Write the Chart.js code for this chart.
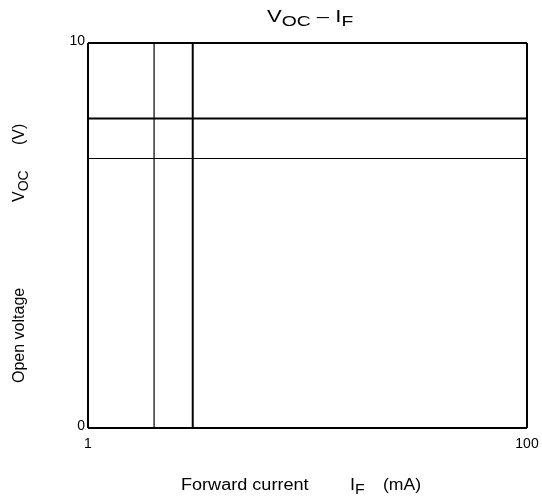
<!DOCTYPE html>
<html>
<head>
<meta charset="utf-8">
<script src="https://cdn.jsdelivr.net/npm/chart.js@4"></script>
<style>
  body { margin: 0; background: #fff; }
  #wrap { width: 542px; height: 497px; }
</style>
</head>
<body>
<div id="wrap"><canvas id="myChart" width="542" height="497"></canvas></div>
<script>
// chart values
const xTicks = [1, 100];      // forward current IF (mA), log axis
const yTicks = [0, 10];       // open voltage VOC (V)
const ifMarks = [2, 3];       // vertical guide lines (mA)
const vocMarks = [8.04, 7];   // horizontal guide lines (V)

const FONT = '"Liberation Sans", Arial, sans-serif';

function vLine(x) {
    return [{ x: x, y: yTicks[0] }, { x: x, y: yTicks[1] }];
}
function hLine(y) {
    return [{ x: xTicks[0], y: y }, { x: xTicks[1], y: y }];
}

function pieceFont(p) {
    return (p.sub ? '14px ' : '16px ') + FONT;
}

// draws text pieces (some as subscripts), stretched horizontally by sx
function drawPieces(c, pieces, x, y, sx) {
    sx = sx || 1;
    c.save();
    c.translate(x, y);
    c.scale(sx, 1);
    let pos = 0;
    pieces.forEach(p => {
        c.font = pieceFont(p);
        c.fillText(p.t, pos, p.sub ? 4 : 0);
        pos += c.measureText(p.t).width;
    });
    c.restore();
}

const labelsPlugin = {
    id: 'labels',
    afterDraw(chart) {
        const c = chart.ctx;
        c.save();
        c.fillStyle = '#000';
        c.textBaseline = 'alphabetic';
        c.textAlign = 'left';

        // title  VOC – IF
        const title = [{ t: 'V' }, { t: 'OC', sub: true }, { t: ' \u2013 I' }, { t: 'F', sub: true }];
        drawPieces(c, title, 267, 22, 1.38);

        // x axis label
        drawPieces(c, [{ t: 'Forward current' }], 181, 490, 1.13);
        drawPieces(c, [{ t: 'I' }, { t: 'F', sub: true }], 350, 490, 1.13);
        drawPieces(c, [{ t: '(mA)' }], 383, 490, 1.1);

        // y axis label (rotated)
        c.translate(24, 0);
        c.rotate(-Math.PI / 2);
        drawPieces(c, [{ t: 'Open voltage' }], -383, 0);
        drawPieces(c, [{ t: 'V' }, { t: 'OC', sub: true }], -202, 0);
        drawPieces(c, [{ t: '(V)' }], -145, 0);
        c.restore();
    }
};

const ctx = document.getElementById('myChart');
const lineStyle = { borderColor: '#000', pointRadius: 0, showLine: true, fill: false };

new Chart(ctx, {
    type: 'scatter',
    data: {
        datasets: [
            { ...lineStyle, data: vLine(ifMarks[0]), borderWidth: 1.2 },
            { ...lineStyle, data: vLine(ifMarks[1]), borderWidth: 2 },
            { ...lineStyle, data: hLine(vocMarks[0]), borderWidth: 2 },
            { ...lineStyle, data: hLine(vocMarks[1]), borderWidth: 1 }
        ]
    },
    options: {
        responsive: false,
        animation: false,
        layout: { padding: { top: 43, right: 15, left: 0, bottom: 0 } },
        plugins: {
            legend: { display: false },
            tooltip: { enabled: false },
            title: { display: false }
        },
        scales: {
            x: {
                type: 'logarithmic',
                min: xTicks[0],
                max: xTicks[1],
                afterBuildTicks: s => { s.ticks = xTicks.map(v => ({ value: v })); },
                afterFit: s => { s.height = 69; s.paddingLeft = 0; s.paddingRight = 0; },
                border: { display: false },
                grid: { color: '#000', lineWidth: 2, drawTicks: false },
                ticks: {
                    color: '#000',
                    font: { family: FONT, size: 14 },
                    padding: 8,
                    maxRotation: 0,
                    autoSkip: false,
                    callback: v => String(v)
                }
            },
            y: {
                min: yTicks[0],
                max: yTicks[1],
                afterBuildTicks: s => { s.ticks = yTicks.map(v => ({ value: v })); },
                afterFit: s => { s.width = 88; s.paddingTop = 0; s.paddingBottom = 0; },
                border: { display: false },
                grid: { color: '#000', lineWidth: 2, drawTicks: false },
                ticks: {
                    color: '#000',
                    font: { family: FONT, size: 14 },
                    padding: 3,
                    labelOffset: -2,
                    callback: v => String(v)
                }
            }
        }
    },
    plugins: [labelsPlugin]
});
</script>
</body>
</html>
